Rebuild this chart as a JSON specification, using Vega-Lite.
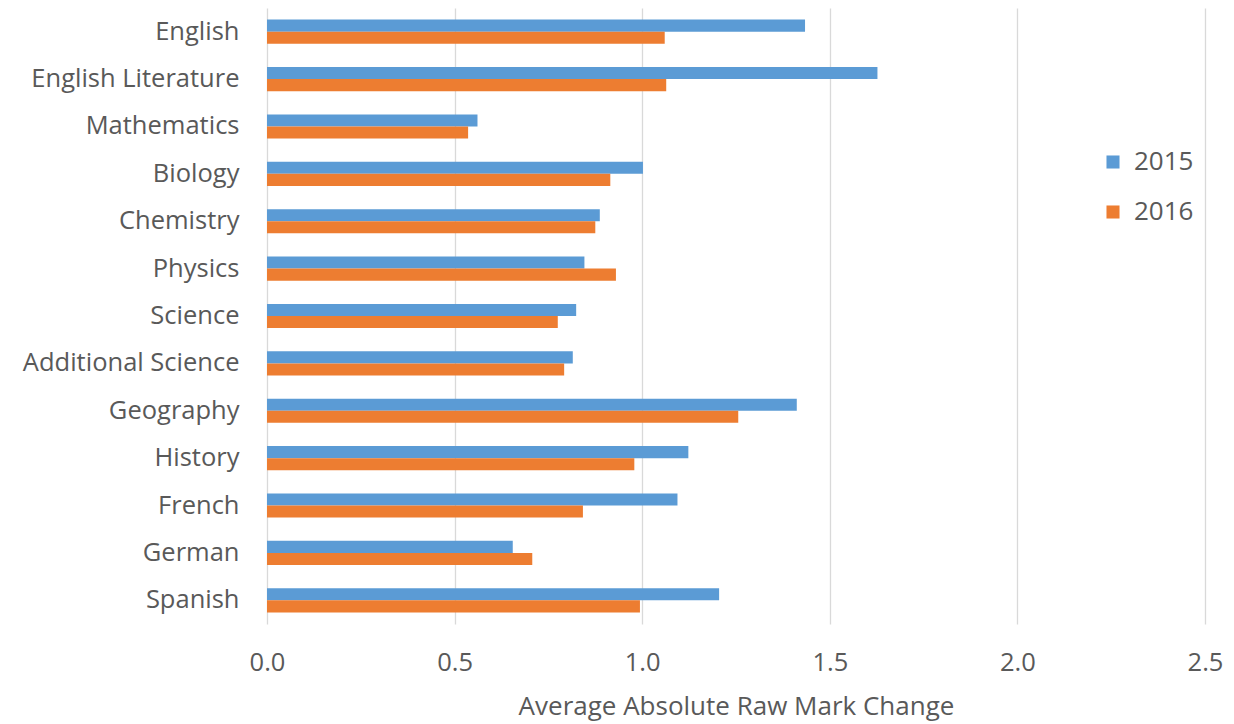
{
  "$schema": "https://vega.github.io/schema/vega-lite/v6.json",
  "autosize": {"type": "none"},
  "padding": {"left": 267, "top": 8, "right": 29, "bottom": 100},
  "width": 938,
  "height": 616,
  "background": "white",
  "config": {
    "view": {"stroke": null},
    "font": "Open Sans"
  },
  "data": {
    "values": [
      {"subject": "English", "year": "2015", "value": 1.434},
      {"subject": "English", "year": "2016", "value": 1.060},
      {"subject": "English Literature", "year": "2015", "value": 1.627},
      {"subject": "English Literature", "year": "2016", "value": 1.064},
      {"subject": "Mathematics", "year": "2015", "value": 0.561},
      {"subject": "Mathematics", "year": "2016", "value": 0.536},
      {"subject": "Biology", "year": "2015", "value": 1.002},
      {"subject": "Biology", "year": "2016", "value": 0.915},
      {"subject": "Chemistry", "year": "2015", "value": 0.887},
      {"subject": "Chemistry", "year": "2016", "value": 0.875},
      {"subject": "Physics", "year": "2015", "value": 0.846},
      {"subject": "Physics", "year": "2016", "value": 0.930},
      {"subject": "Science", "year": "2015", "value": 0.824},
      {"subject": "Science", "year": "2016", "value": 0.775},
      {"subject": "Additional Science", "year": "2015", "value": 0.815},
      {"subject": "Additional Science", "year": "2016", "value": 0.792},
      {"subject": "Geography", "year": "2015", "value": 1.412},
      {"subject": "Geography", "year": "2016", "value": 1.256},
      {"subject": "History", "year": "2015", "value": 1.123},
      {"subject": "History", "year": "2016", "value": 0.979},
      {"subject": "French", "year": "2015", "value": 1.094},
      {"subject": "French", "year": "2016", "value": 0.842},
      {"subject": "German", "year": "2015", "value": 0.655},
      {"subject": "German", "year": "2016", "value": 0.707},
      {"subject": "Spanish", "year": "2015", "value": 1.205},
      {"subject": "Spanish", "year": "2016", "value": 0.994}
    ]
  },
  "mark": {"type": "bar"},
  "encoding": {
    "y": {
      "field": "subject",
      "type": "nominal",
      "sort": null,
      "scale": {"paddingInner": 0.49, "paddingOuter": 0.245},
      "axis": {
        "title": null,
        "ticks": false,
        "domain": false,
        "labelFontSize": 25.5,
        "labelColor": "#595959",
        "labelPadding": 28,
        "labelLimit": 0
      }
    },
    "yOffset": {"field": "year", "type": "nominal", "scale": {"paddingInner": 0, "paddingOuter": 0}},
    "x": {
      "field": "value",
      "type": "quantitative",
      "scale": {"domain": [0, 2.5], "nice": false},
      "axis": {
        "values": [0, 0.5, 1, 1.5, 2, 2.5],
        "format": ".1f",
        "title": "Average Absolute Raw Mark Change",
        "titleFontSize": 26,
        "titleFontWeight": "normal",
        "titleColor": "#595959",
        "titlePadding": 18,
        "labelFontSize": 25.5,
        "labelColor": "#595959",
        "labelPadding": 26,
        "labelFlush": false,
        "ticks": false,
        "domain": false,
        "grid": true,
        "gridColor": "#d9d9d9",
        "gridWidth": 1.3
      }
    },
    "color": {
      "field": "year",
      "type": "nominal",
      "scale": {"domain": ["2015", "2016"], "range": ["#5B9BD5", "#ED7D31"]},
      "legend": {
        "title": null,
        "orient": "none",
        "legendX": 833,
        "legendY": 141,
        "symbolType": "square",
        "symbolSize": 170,
        "symbolStrokeWidth": 0,
        "labelFontSize": 26,
        "labelColor": "#595959",
        "labelOffset": 8,
        "rowPadding": 24
      }
    }
  }
}
